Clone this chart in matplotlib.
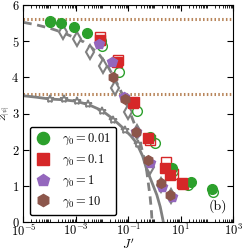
import numpy as np
import matplotlib
matplotlib.use('Agg')
from matplotlib import pyplot as plt
from matplotlib.ticker import LogLocator, NullFormatter

plt.rcParams['mathtext.fontset'] = 'cm'
plt.rcParams['font.family'] = 'serif'
plt.rcParams['font.serif'] = ['cmr10', 'DejaVu Serif']
plt.rcParams['axes.unicode_minus'] = False

# --- data ---
# theory curves (log10 J', Z)
dash_lx = [-5.0, -4.5, -4.0, -3.5, -3.0, -2.7, -2.4, -2.1, -1.8, -1.5, -1.25, -1.0,
           -0.8, -0.6, -0.45, -0.32, -0.23, -0.17, -0.12, -0.09]
dash_y = [5.52, 5.45, 5.36, 5.24, 5.08, 4.98, 4.82, 4.62, 4.33, 3.94, 3.57, 3.15,
          2.78, 2.38, 1.92, 1.55, 1.05, 0.72, 0.35, 0.0]
solid_lx = [-5.0, -4.5, -4.0, -3.5, -3.0, -2.5, -2.0, -1.6, -1.2, -0.9, -0.68, -0.45,
            -0.3, -0.1, 0.09, 0.22, 0.34]
solid_y = [3.49, 3.45, 3.40, 3.38, 3.34, 3.24, 3.08, 2.86, 2.60, 2.38, 2.18, 1.82,
           1.46, 1.10, 0.75, 0.42, 0.0]
upper_level = 5.61
lower_level = 3.55

# simulation points (J', Z)
diam_x = 10 ** np.array([-3.48, -2.95, -2.46, -1.98, -1.51, -1.0, -0.67, -0.17, 0.25, 0.62])
diam_y = [5.26, 5.05, 4.71, 4.31, 3.70, 3.03, 2.49, 1.53, 1.02, 0.72]
star_x = 10 ** np.array([-4.0, -3.45, -2.95, -2.53, -2.0, -1.57, -1.12, -0.68, -0.62])
star_y = [3.40, 3.40, 3.34, 3.25, 3.08, 2.82, 2.55, 2.50, 2.15]

g_open_x = 10 ** np.array([-3.99, -1.99, -1.34, -0.68, 0.02, 0.72, 1.29, 2.25])
g_open_y = [5.55, 4.87, 4.14, 3.07, 2.18, 1.40, 1.02, 0.84]
r_open_x = 10 ** np.array([-2.08, -1.40, -0.77, -0.17, 0.44, 0.72, 1.10])
r_open_y = [5.11, 4.48, 3.33, 2.27, 1.67, 1.32, 1.04]

g_x = 10 ** np.array([-3.99, -3.57, -3.06, -2.56, -2.05, -1.43, -0.17, 0.68, 1.40, 2.18])
g_y = [5.52, 5.49, 5.40, 5.23, 5.0, 4.42, 2.35, 1.50, 1.10, 0.90]
r_x = 10 ** np.array([-2.08, -1.44, -0.83, -0.23, 0.40, 0.59, 1.04])
r_y = [5.03, 4.43, 3.28, 2.31, 1.49, 1.30, 1.07]
p_x = 10 ** np.array([-2.12, -1.63, -1.16, -0.70, -0.17, 0.28, 0.66])
p_y = [4.91, 4.43, 3.46, 2.50, 1.62, 0.98, 0.70]
b_x = 10 ** np.array([-1.57, -1.12, -0.72, -0.23, 0.25, 0.59])
b_y = [4.0, 3.39, 2.50, 1.71, 1.09, 0.75]

labels = [r'$\gamma_0 = 0.01$', r'$\gamma_0 = 0.1$', r'$\gamma_0 = 1$', r'$\gamma_0 = 10$']

green = '#2ca02c'
red = '#d62728'
purple = '#9467bd'
brown = '#8c564b'
gray = '#808080'

fig = plt.figure(figsize=(2.42, 2.5), dpi=100)
ax = fig.add_axes([0.097, 0.112, 0.866, 0.868])

ax.axhline(upper_level, color='#b8855a', lw=2.2, ls=(0, (0.5, 0.75)))
ax.axhline(lower_level, color='#b8855a', lw=2.2, ls=(0, (0.5, 0.75)))

ax.plot(10 ** np.array(dash_lx), dash_y, color=gray, lw=2.0, ls=(0, (3, 2)))
ax.plot(10 ** np.array(solid_lx), solid_y, color=gray, lw=2.0)

ax.plot(diam_x, diam_y, 'd', ms=7, mfc='white', mec=gray, mew=1.5, ls='none')
ax.plot(star_x, star_y, '*', ms=6, mfc='white', mec=gray, mew=1.3, ls='none')

ax.plot(g_open_x, g_open_y, 'o', ms=7, mfc='none', mec=green, mew=1.0, ls='none')
ax.plot(r_open_x, r_open_y, 's', ms=7, mfc='none', mec=red, mew=1.0, ls='none')

h1, = ax.plot(g_x, g_y, 'o', ms=7, color=green, ls='none', label=labels[0])
h2, = ax.plot(r_x, r_y, 's', ms=6.5, color=red, ls='none', label=labels[1])
h3, = ax.plot(p_x, p_y, 'p', ms=7, color=purple, ls='none', label=labels[2])
h4, = ax.plot(b_x, b_y, 'h', ms=7, color=brown, ls='none', label=labels[3])

ax.set_xscale('log')
ax.set_xlim(1e-5, 1e3)
ax.set_ylim(0, 6)
ax.set_xticks([1e-5, 1e-3, 1e-1, 1e1, 1e3])
ax.set_xticklabels([r'$10^{-5}$', r'$10^{-3}$', r'$10^{-1}$', r'$10^{1}$', r'$10^{3}$'])
ax.xaxis.set_minor_locator(LogLocator(base=10, subs=np.arange(1, 10), numticks=20))
ax.xaxis.set_minor_formatter(NullFormatter())
ax.set_yticks(range(7))
ax.set_yticklabels([r'$%d$' % v for v in range(7)])
ax.tick_params(which='both', direction='in', top=True, right=True, labelsize=9)
ax.tick_params(axis='x', pad=1)
ax.tick_params(axis='y', pad=3)
ax.tick_params(which='major', length=4)
ax.tick_params(which='minor', length=2)

ax.set_xlabel(r"$J'$", fontsize=9, labelpad=0)
ax.xaxis.set_label_coords(0.5, -0.074)
ax.set_ylabel(r'$Z_{|\psi|}$', fontsize=7)
ax.yaxis.set_label_coords(-0.052, 0.5)

leg = ax.legend(handles=[h1, h2, h3, h4], loc='lower left', bbox_to_anchor=(0.03, 0.03),
                borderaxespad=0, fontsize=9, frameon=True, fancybox=True,
                edgecolor='black', markerscale=1.25, handletextpad=0.9,
                borderpad=0.45, labelspacing=0.45, handlelength=1.2)
leg.get_frame().set_linewidth(1.0)
leg.get_frame().set_alpha(1)

ax.text(0.97, 0.04, '(b)', transform=ax.transAxes, ha='right', va='bottom', fontsize=10)

plt.savefig('out.png', dpi=100)
